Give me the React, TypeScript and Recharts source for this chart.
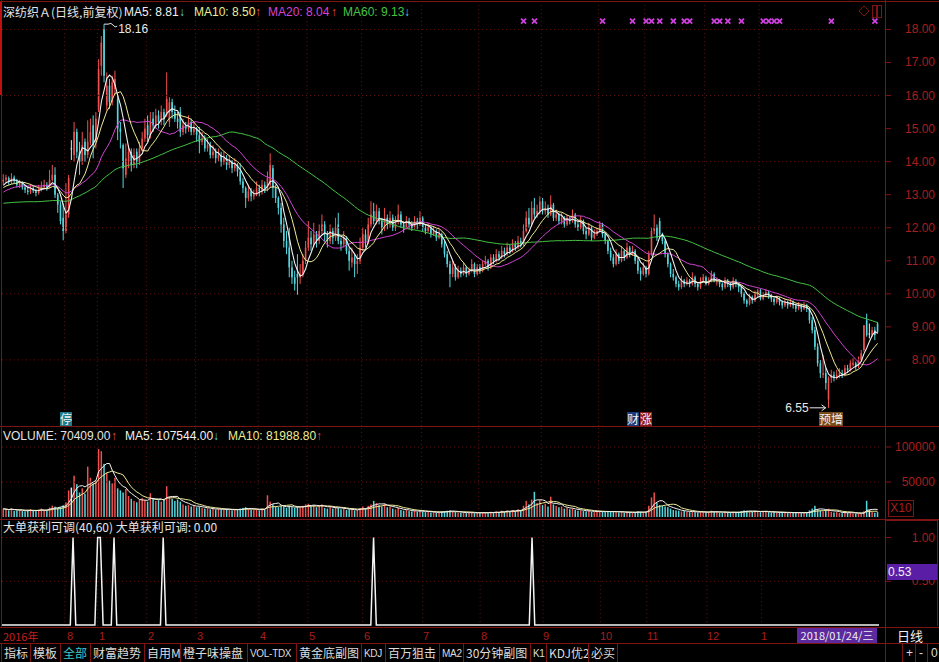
import React from 'react';
import { ComposedChart, Bar, Line, XAxis, YAxis, ReferenceLine, ReferenceDot } from 'recharts';

// 59 sessions before the first drawn bar, only used to seed the long moving averages
const warmupCloses = [
  12.9, 13.05, 13.1, 12.95, 13.0, 13.15, 13.05, 12.9, 12.95, 13.1, 13.2, 13.05, 12.95, 13.0, 12.85, 12.9, 13.05, 13.1, 12.95, 12.8, 12.7, 12.6, 12.55,
  12.4, 12.3, 12.2, 12.1, 11.95, 11.85, 11.8, 11.75, 11.8, 11.9, 11.85, 11.95, 12.05, 12.1, 12.2, 12.3, 12.4,
  12.55, 12.7, 12.8, 12.9, 13.0, 12.95, 13.05, 13.1, 13.2, 13.15, 13.05, 13.1, 13.2, 13.25, 13.15, 13.1, 13.2, 13.3, 13.35,
];

// daily bars: Jul-Aug 2016, halt, then Jan 2017 - Mar 2018
const opens = [
  13.4, 13.45, 13.5, 13.38, 13.52, 13.4, 13.28, 13.35, 13.22, 13.12, 13.08, 13.2, 13.1, 13.05, 13.18, 13.22, 13.3, 13.22, 13.45, 13.6, 13.0, 12.7, 12.3,
  11.9, 12.4, 14.4, 14.2, 14.9, 14.3, 14.0, 14.6, 14.2, 14.6, 15.1, 14.6,
  15.6, 16.9, 18.0, 15.7, 16.3, 15.8, 16.2, 15.9, 15.0, 14.5, 13.6, 14.0, 14.3, 13.9, 14.3, 14.0, 14.4, 14.7,
  15.1, 14.8, 15.3, 15.1, 15.4, 15.2, 15.5, 15.4, 15.2, 15.8, 15.5, 15.3, 15.5, 14.9, 15.1, 15.0, 15.2, 14.9,
  15.0, 14.8, 14.6, 14.7, 14.4, 14.5, 14.2, 14.3, 14.1, 14.2, 14.0, 14.1, 13.9, 14.0, 13.8, 13.9, 13.7, 13.4, 13.2, 12.9, 13.1, 12.95, 13.0,
  13.2, 13.1, 13.3, 13.2, 13.3, 13.8, 13.2, 12.9, 12.6, 12.1, 11.6, 11.4, 10.8, 10.5, 10.6, 10.5, 10.6, 11.0,
  11.4, 11.7, 11.5, 11.8, 11.6, 11.9, 12.1, 11.8, 11.6, 11.9, 11.7, 12.1, 11.6, 11.5, 11.7, 11.3, 10.95, 11.1, 10.9, 11.0,
  11.4, 11.8, 11.6, 12.1, 12.5, 12.2, 12.5, 12.2, 12.0, 12.3, 12.1, 12.3, 12.0, 12.2, 12.4, 12.1, 12.0, 12.2, 12.1, 12.0, 12.2, 12.1,
  12.3, 12.0, 11.9, 12.0, 11.8, 11.9, 11.7, 11.8, 11.5, 11.2, 10.9, 10.6, 10.8, 10.5, 10.7, 10.6, 10.8, 10.6, 10.7, 10.9, 10.6,
  10.8, 10.7, 10.9, 11.0, 10.8, 11.1, 11.0, 11.2, 11.1, 11.3, 11.2, 11.4, 11.3, 11.5, 11.4, 11.6, 11.5, 11.9, 12.3, 12.1, 12.6, 12.4, 12.5,
  12.8, 12.5, 12.6, 12.4, 12.7, 12.3, 12.4, 12.2, 12.3, 12.1, 12.3, 12.2, 12.4, 12.1, 12.0, 12.2, 11.9, 11.8, 12.0, 11.7, 11.8,
  11.9, 12.1, 11.8, 11.6, 11.3, 11.1, 10.9, 11.2, 11.0, 11.3, 11.1, 11.4, 11.2, 11.3, 11.0, 10.7, 10.6,
  10.8, 10.6, 11.2, 11.9, 12.0, 12.2, 11.8, 11.6, 11.2, 10.9, 10.6, 10.5, 10.3, 10.2, 10.4, 10.3, 10.4, 10.3, 10.5, 10.3, 10.2, 10.4,
  10.5, 10.3, 10.4, 10.6, 10.35, 10.4, 10.3, 10.2, 10.4, 10.3, 10.2, 10.4, 10.3, 10.2, 10.0, 9.8, 9.7, 9.9, 9.8, 9.95,
  10.1, 9.85, 9.95, 10.05, 9.95, 9.85, 9.75, 9.85, 9.75, 9.65, 9.75, 9.65, 9.75, 9.65, 9.55, 9.65, 9.55, 9.65, 9.55, 9.2, 8.9, 8.4,
  7.9, 7.55, 7.6, 6.8, 7.45, 7.55, 7.45, 7.55, 7.6, 7.55, 7.75, 7.7, 7.85, 7.9, 7.8,
  8.0, 8.3, 9.2, 8.8, 8.75, 8.9, 9.1,
];
const highs = [
  13.62, 13.6, 13.55, 13.65, 13.58, 13.48, 13.45, 13.4, 13.3, 13.25, 13.32, 13.28, 13.18, 13.3, 13.4, 13.45, 13.38, 13.75, 13.9, 13.83, 13.05, 12.8, 12.74,
  13.35, 13.6, 14.65, 15.2, 15.0, 14.6, 14.9, 14.7, 15.25, 15.3, 15.4, 15.5,
  17.1, 17.8, 18.16, 16.7, 16.5, 16.6, 16.75, 16.0, 15.2, 14.55, 14.55, 14.5, 14.4, 14.4, 14.4, 14.6, 14.9, 15.3,
  15.4, 15.5, 15.5, 15.6, 15.55, 15.7, 15.6, 16.7, 15.95, 15.9, 15.7, 15.5, 15.65, 15.3, 15.2, 15.4, 15.3, 15.2,
  15.05, 15.05, 14.9, 14.8, 14.7, 14.6, 14.5, 14.4, 14.4, 14.3, 14.3, 14.2, 14.2, 14.05, 14.1, 13.95, 13.95, 13.5, 13.25, 13.3, 13.2, 13.15, 13.4,
  13.3, 13.45, 13.4, 13.7, 14.25, 13.9, 13.3, 12.95, 12.75, 12.3, 11.9, 12.0, 11.0, 10.7, 11.2, 10.9, 11.2, 11.6,
  12.2, 11.9, 12.15, 11.9, 12.1, 12.4, 12.2, 11.9, 12.1, 12.0, 12.3, 12.45, 11.7, 11.9, 11.75, 11.4, 11.4, 11.2, 11.2, 11.7,
  12.0, 11.95, 12.3, 12.8, 12.75, 12.7, 12.6, 12.3, 12.6, 12.4, 12.5, 12.4, 12.35, 12.7, 12.5, 12.2, 12.35, 12.3, 12.2, 12.35, 12.3, 12.5,
  12.35, 12.1, 12.15, 12.05, 12.05, 11.95, 11.95, 11.85, 11.6, 11.3, 11.0, 11.0, 10.9, 10.85, 10.8, 10.95, 10.85, 10.8, 11.05, 10.95, 10.9,
  10.9, 11.0, 11.15, 11.05, 11.2, 11.2, 11.35, 11.3, 11.45, 11.4, 11.55, 11.5, 11.65, 11.6, 11.75, 11.7, 12.1, 12.5, 12.6, 12.8, 12.9, 12.7, 12.95,
  12.9, 12.8, 12.7, 12.98, 12.75, 12.55, 12.45, 12.45, 12.35, 12.4, 12.35, 12.55, 12.45, 12.2, 12.35, 12.25, 12.0, 12.15, 12.05, 11.95, 12.0,
  12.2, 12.15, 11.85, 11.65, 11.4, 11.2, 11.35, 11.25, 11.45, 11.35, 11.55, 11.45, 11.45, 11.35, 11.1, 10.8, 10.95,
  10.85, 11.3, 12.0, 12.4, 12.1, 12.3, 11.85, 11.65, 11.25, 10.95, 10.75, 10.55, 10.4, 10.55, 10.45, 10.5, 10.45, 10.65, 10.55, 10.35, 10.5, 10.6,
  10.55, 10.5, 10.7, 10.65, 10.5, 10.45, 10.35, 10.5, 10.45, 10.35, 10.5, 10.45, 10.35, 10.25, 10.05, 9.85, 10.0, 9.95, 10.1, 10.15,
  10.15, 10.05, 10.15, 10.1, 10.0, 9.9, 9.95, 9.9, 9.8, 9.85, 9.8, 9.85, 9.8, 9.7, 9.75, 9.7, 9.75, 9.7, 9.6, 9.3, 9.0, 8.5,
  8.0, 8.15, 7.75, 7.5, 7.7, 7.65, 7.7, 7.75, 7.7, 7.85, 7.85, 8.0, 8.05, 7.95, 8.1,
  8.3, 9.05, 9.4, 9.1, 9.0, 9.0, 9.15,
];
const lows = [
  13.3, 13.35, 13.3, 13.32, 13.35, 13.22, 13.2, 13.15, 13.05, 13.0, 13.02, 13.05, 12.95, 13.0, 13.1, 13.15, 13.12, 13.2, 13.4, 12.9, 12.45, 12.1, 11.62,
  11.83, 12.3, 14.05, 14.0, 14.1, 13.6, 13.9, 14.0, 14.1, 14.5, 14.1, 14.4,
  15.5, 16.6, 16.4, 15.55, 15.6, 15.7, 16.0, 14.65, 14.4, 13.2, 13.5, 13.8, 13.7, 13.8, 13.8, 13.9, 14.3, 14.6,
  14.6, 14.7, 14.9, 15.0, 15.0, 15.1, 15.1, 15.35, 15.05, 15.3, 15.2, 15.0, 14.75, 14.8, 14.85, 14.9, 14.8, 14.8,
  14.6, 14.25, 14.5, 14.3, 14.3, 14.1, 14.1, 13.95, 14.0, 13.85, 13.9, 13.75, 13.8, 13.65, 13.7, 13.55, 13.3, 13.05, 12.6, 12.8, 12.8, 12.85, 12.95,
  12.95, 13.0, 13.05, 13.1, 13.2, 12.9, 12.75, 12.4, 11.85, 11.4, 11.2, 10.5, 10.3, 10.1, 9.97, 10.3, 10.5, 10.9,
  11.3, 11.3, 11.4, 11.4, 11.5, 11.8, 11.6, 11.4, 11.5, 11.5, 11.6, 11.5, 11.3, 11.4, 11.2, 10.7, 10.8, 10.5, 10.6, 10.9,
  11.3, 11.4, 11.5, 12.0, 12.1, 12.1, 12.1, 11.8, 11.9, 11.95, 12.0, 11.9, 11.9, 12.1, 12.0, 11.85, 11.95, 11.95, 11.9, 11.95, 11.95, 12.05,
  11.9, 11.8, 11.85, 11.7, 11.75, 11.6, 11.65, 11.4, 11.1, 10.8, 10.2, 10.5, 10.4, 10.45, 10.5, 10.55, 10.5, 10.55, 10.65, 10.5, 10.55,
  10.6, 10.65, 10.85, 10.7, 10.75, 10.9, 10.95, 11.0, 11.05, 11.1, 11.15, 11.2, 11.25, 11.3, 11.35, 11.4, 11.45, 11.85, 12.0, 12.05, 12.3, 12.3, 12.4,
  12.4, 12.4, 12.3, 12.35, 12.2, 12.2, 12.1, 12.1, 12.0, 12.05, 12.1, 12.15, 12.0, 11.9, 11.95, 11.8, 11.65, 11.75, 11.6, 11.65, 11.75,
  11.85, 11.7, 11.5, 11.2, 11.0, 10.8, 10.85, 10.9, 10.95, 11.0, 11.05, 11.1, 11.15, 10.9, 10.6, 10.4, 10.55,
  10.5, 10.55, 11.15, 11.8, 11.6, 11.7, 11.5, 11.1, 10.8, 10.5, 10.4, 10.2, 10.1, 10.15, 10.2, 10.25, 10.2, 10.25, 10.2, 10.1, 10.15, 10.35,
  10.25, 10.25, 10.35, 10.35, 10.25, 10.2, 10.1, 10.15, 10.2, 10.1, 10.15, 10.2, 10.05, 9.9, 9.7, 9.6, 9.65, 9.7, 9.75, 9.9,
  9.8, 9.8, 9.9, 9.85, 9.75, 9.65, 9.7, 9.65, 9.55, 9.6, 9.55, 9.6, 9.55, 9.45, 9.5, 9.45, 9.5, 9.45, 9.1, 8.8, 8.3, 7.8,
  7.45, 7.45, 7.1, 6.55, 7.3, 7.35, 7.4, 7.45, 7.45, 7.5, 7.6, 7.65, 7.8, 7.7, 7.75,
  7.95, 8.25, 8.7, 8.65, 8.7, 8.6, 8.8,
];
const closes = [
  13.45, 13.52, 13.38, 13.5, 13.41, 13.3, 13.35, 13.22, 13.15, 13.08, 13.2, 13.12, 13.05, 13.18, 13.25, 13.3, 13.22, 13.45, 13.6, 13.0, 12.7, 12.2, 11.9,
  12.4, 13.5, 14.4, 14.9, 14.3, 14.0, 14.5, 14.2, 14.6, 14.9, 14.5, 15.3,
  16.8, 17.6, 16.6, 16.3, 15.8, 16.4, 16.5, 15.0, 14.9, 13.8, 14.1, 14.3, 13.9, 14.2, 14.0, 14.4, 14.7, 15.0,
  14.8, 15.2, 15.1, 15.4, 15.2, 15.5, 15.3, 15.9, 15.8, 15.5, 15.3, 15.2, 14.9, 15.1, 15.0, 15.2, 14.9, 15.0,
  14.8, 14.6, 14.7, 14.4, 14.5, 14.2, 14.3, 14.1, 14.2, 14.0, 14.1, 13.9, 14.0, 13.8, 13.9, 13.7, 13.4, 13.2, 12.9, 13.1, 12.95, 13.0, 13.2,
  13.1, 13.3, 13.2, 13.5, 13.9, 13.2, 12.9, 12.6, 12.1, 11.6, 11.4, 10.8, 10.5, 10.3, 10.5, 10.6, 11.0, 11.4,
  11.7, 11.5, 11.8, 11.6, 11.9, 12.1, 11.8, 11.6, 11.9, 11.7, 12.0, 11.6, 11.5, 11.7, 11.3, 11.0, 11.1, 10.9, 11.0, 11.4,
  11.8, 11.6, 12.1, 12.4, 12.2, 12.5, 12.2, 12.0, 12.3, 12.1, 12.3, 12.0, 12.2, 12.4, 12.1, 12.0, 12.2, 12.1, 12.0, 12.2, 12.1, 12.3,
  12.0, 11.9, 12.0, 11.8, 11.9, 11.7, 11.8, 11.5, 11.2, 10.9, 10.6, 10.8, 10.5, 10.7, 10.6, 10.8, 10.6, 10.7, 10.9, 10.6, 10.8,
  10.7, 10.9, 11.0, 10.8, 11.1, 11.0, 11.2, 11.1, 11.3, 11.2, 11.4, 11.3, 11.5, 11.4, 11.6, 11.5, 11.9, 12.3, 12.1, 12.6, 12.4, 12.5, 12.8,
  12.5, 12.6, 12.4, 12.7, 12.3, 12.4, 12.2, 12.3, 12.1, 12.3, 12.2, 12.4, 12.1, 12.0, 12.2, 11.9, 11.8, 12.0, 11.7, 11.8, 11.9,
  12.1, 11.8, 11.6, 11.3, 11.1, 10.9, 11.2, 11.0, 11.3, 11.1, 11.4, 11.2, 11.3, 11.0, 10.7, 10.6, 10.8,
  10.6, 11.2, 11.9, 12.0, 11.7, 11.8, 11.6, 11.2, 10.9, 10.6, 10.5, 10.3, 10.2, 10.4, 10.3, 10.4, 10.3, 10.5, 10.3, 10.2, 10.4, 10.5,
  10.3, 10.4, 10.6, 10.4, 10.4, 10.3, 10.2, 10.4, 10.3, 10.2, 10.4, 10.3, 10.2, 10.0, 9.8, 9.7, 9.9, 9.8, 10.0, 10.1,
  9.85, 9.95, 10.05, 9.95, 9.85, 9.75, 9.85, 9.75, 9.65, 9.75, 9.65, 9.75, 9.65, 9.55, 9.65, 9.55, 9.65, 9.55, 9.2, 8.9, 8.4, 7.9,
  7.6, 7.6, 7.3, 7.45, 7.55, 7.45, 7.55, 7.6, 7.55, 7.75, 7.7, 7.9, 7.9, 7.8, 8.0,
  8.2, 9.05, 8.75, 8.8, 8.9, 8.75, 8.85,
];
const volumes = [
  118000, 105000, 96000, 124000, 88000, 92000, 101000, 85000, 78000, 94000, 112000, 87000, 83000, 106000, 121000, 98000, 90000, 135000, 162000, 148000, 126000, 142000, 168000,
  210000, 380000, 420000, 590000, 470000, 350000, 410000, 330000, 720000, 560000, 480000, 520000,
  970000, 940000, 760000, 630000, 520000, 480000, 560000, 410000, 380000, 350000, 400000, 300000, 260000, 230000, 210000, 250000, 270000, 240000,
  220000, 340000, 260000, 230000, 240000, 220000, 250000, 440000, 290000, 260000, 230000, 250000, 220000, 180000, 160000, 170000, 150000, 160000,
  140000, 150000, 130000, 120000, 125000, 110000, 115000, 105000, 120000, 110000, 100000, 115000, 105000, 95000, 110000, 100000, 120000, 130000, 140000, 115000, 105000, 100000, 110000,
  95000, 120000, 105000, 310000, 220000, 180000, 150000, 140000, 160000, 150000, 130000, 160000, 140000, 130000, 150000, 140000, 160000, 180000,
  190000, 150000, 170000, 140000, 160000, 180000, 130000, 120000, 150000, 120000, 140000, 130000, 110000, 120000, 100000, 110000, 105000, 95000, 100000, 130000,
  150000, 120000, 160000, 180000, 230000, 200000, 170000, 150000, 190000, 140000, 150000, 120000, 110000, 130000, 100000, 90000, 100000, 85000, 80000, 90000, 75000, 95000,
  80000, 70000, 75000, 65000, 70000, 60000, 65000, 80000, 85000, 90000, 95000, 75000, 70000, 65000, 60000, 65000, 55000, 60000, 70000, 55000, 60000,
  55000, 65000, 70000, 55000, 75000, 60000, 80000, 70000, 90000, 75000, 95000, 80000, 100000, 85000, 110000, 95000, 160000, 230000, 180000, 250000, 360000, 200000, 240000,
  170000, 190000, 150000, 290000, 180000, 160000, 140000, 150000, 120000, 130000, 110000, 120000, 100000, 90000, 95000, 85000, 80000, 90000, 75000, 70000, 80000,
  85000, 75000, 70000, 80000, 75000, 85000, 70000, 65000, 75000, 60000, 70000, 65000, 60000, 70000, 80000, 75000, 65000,
  70000, 160000, 280000, 350000, 200000, 170000, 160000, 150000, 140000, 120000, 100000, 95000, 90000, 80000, 85000, 75000, 70000, 80000, 70000, 65000, 75000, 70000,
  65000, 70000, 90000, 75000, 70000, 65000, 60000, 75000, 65000, 60000, 70000, 60000, 75000, 85000, 95000, 90000, 80000, 75000, 85000, 80000,
  70000, 75000, 80000, 70000, 65000, 70000, 60000, 65000, 70000, 60000, 55000, 65000, 60000, 70000, 60000, 55000, 60000, 65000, 95000, 120000, 160000, 110000,
  95000, 80000, 90000, 120000, 75000, 65000, 70000, 60000, 55000, 65000, 60000, 70000, 49200, 48300, 49600,
  52400, 82668, 231500, 98400, 76211, 61200, 70409,
];

// days where the 大单获利可调 signal fires
const signalDays = [26, 35, 36, 41, 59, 136, 194];
// days carrying the purple cross flags along the top
const crossDays = [191, 195, 220, 231, 236, 238, 241, 246, 250, 252, 261, 263, 266, 271, 279, 281, 283, 285, 304, 320];
const monthStarts = [0, 23, 35, 53, 71, 94, 112, 132, 154, 175, 198, 219, 236, 258, 278];
const monthLabels = ['2016年', '8', '1', '2', '3', '4', '5', '6', '7', '8', '9', '10', '11', '12', '1'];
const eventDays = [23, 231, 236, 304];
const eventTags = ['停', '财', '涨', '预增'];
const eventColors = ['#1e7c88', '#1c3a78', '#8c1c1c', '#7a4a18'];
const priceTicks = [8, 9, 10, 11, 12, 13, 14, 15, 16, 17, 18];
const priceGrid = [8, 10, 12, 14, 16, 18];
const volumeTicks = [500000, 1000000];
const signalTicks = [0.5, 1];
const toolbarLabels = ['指标', '模板', '全部', '财富趋势', '自用M', '橙子味操盘', 'VOL-TDX', '黄金底副图', 'KDJ', '百万狙击', 'MA2', '30分钟副图', 'K1', 'KDJ优2', '必买'];
const toolbarLefts = [4, 33, 63, 93, 147, 183, 250, 299, 364, 388, 442, 466, 533, 549, 591];

const BG = '#000000';
const UP = '#f05050';
const DOWN = '#54d8e0';
const FLAT = '#e8e8e8';
const MA5C = '#f2f2f2';
const MA10C = '#ecec96';
const MA20C = '#d444d4';
const MA60C = '#44c444';
const MARK = '#d040e0';
const BORDER = '#7c1414';
const GRID = '#5e1010';
const AXIS_TEXT = '#a81e1e';
const FONT = "'Liberation Sans', Arial, 'Noto Sans CJK SC', sans-serif";
const CJK = "'Noto Sans CJK SC', 'Liberation Sans', sans-serif";

const N = closes.length;
const PLOT_LEFT = 2;
const PLOT_W = 877;
const BAND = PLOT_W / N;
const xAt = (i: number) => PLOT_LEFT + (i + 0.5) * BAND;
const xStart = (i: number) => PLOT_LEFT + i * BAND;

const allCloses = [...warmupCloses, ...closes];
const avg = (src: number[], end: number, n: number) => {
  const start = Math.max(0, end - n + 1);
  let s = 0;
  for (let k = start; k <= end; k++) s += src[k];
  return s / (end - start + 1);
};

const rows = closes.map((c, i) => {
  const k = i + warmupCloses.length;
  return {
    i,
    open: opens[i],
    high: highs[i],
    low: lows[i],
    close: c,
    range: [lows[i], highs[i]],
    ma5: avg(allCloses, k, 5),
    ma10: avg(allCloses, k, 10),
    ma20: avg(allCloses, k, 20),
    ma60: avg(allCloses, k, 60),
    vol: volumes[i],
    vma5: avg(volumes, i, 5),
    vma10: avg(volumes, i, 10),
    sig: signalDays.includes(i) ? 1 : 0,
    mark: crossDays.includes(i) ? 18.25 : null,
  };
});

const last = rows[N - 1];
const prev = rows[N - 2];
let hiIdx = 0;
let loIdx = 0;
rows.forEach((r, i) => {
  if (r.high > rows[hiIdx].high) hiIdx = i;
  if (r.low < rows[loIdx].low) loIdx = i;
});

const barColor = (p: any) => (p.close > p.open ? UP : p.close < p.open ? DOWN : FLAT);

// thin candle: 1px wick plus a narrow body
const Candle = (props: any) => {
  const { x, y, width, height, payload } = props;
  const { open, close, high, low } = payload;
  const cx = x + width / 2;
  const span = high - low || 1;
  const py = (v: number) => y + ((high - v) / span) * height;
  const top = py(Math.max(open, close));
  const bot = py(Math.min(open, close));
  const color = barColor(payload);
  return (
    <g>
      <line x1={cx} x2={cx} y1={y} y2={y + height} stroke={color} strokeWidth={1} />
      <rect x={cx - 0.8} y={top} width={1.6} height={Math.max(1, bot - top)} fill={color} />
    </g>
  );
};

const VolumeBar = (props: any) => {
  const { x, y, width, height, payload } = props;
  const cx = x + width / 2;
  return <rect x={cx - 0.75} y={y} width={1.5} height={Math.max(0, height)} fill={barColor(payload)} />;
};

const Cross = (props: any) => {
  const { cx, cy, payload, index } = props;
  if (!payload || payload.mark == null || cy == null || cx == null) return <g key={`x${index}`} />;
  return (
    <path
      key={`x${index}`}
      d={`M${cx - 2.5},${cy - 2.5}L${cx + 2.5},${cy + 2.5}M${cx + 2.5},${cy - 2.5}L${cx - 2.5},${cy + 2.5}`}
      stroke={MARK}
      strokeWidth={1.8}
    />
  );
};

const axisTick = (fmt: (v: number) => string) => (props: any) => {
  const { y, payload } = props;
  return (
    <g>
      <line x1={885} x2={891} y1={y} y2={y} stroke={BORDER} />
      <text x={935} y={y + 4} textAnchor="end" fill={AXIS_TEXT} fontSize={12} fontFamily={FONT}>
        {fmt(payload.value)}
      </text>
    </g>
  );
};

const HighTag = (props: any) => {
  const { cx, cy } = props;
  return (
    <g>
      <path d={`M${cx},${cy}L${cx + 4},${cy}Q${cx + 7},${cy - 2} ${cx + 9},${cy + 1}T${cx + 13},${cy + 2}`} stroke="#e8e8e8" fill="none" />
      <text x={cx + 14} y={cy + 9} fill="#e8e8e8" fontSize={12} fontFamily={FONT}>
        {rows[hiIdx].high.toFixed(2)}
      </text>
    </g>
  );
};

const LowTag = (props: any) => {
  const { cx, cy } = props;
  return (
    <g>
      <line x1={cx - 19} x2={cx - 3} y1={cy} y2={cy} stroke="#e8e8e8" />
      <path d={`M${cx - 7},${cy - 3}L${cx - 3},${cy}L${cx - 7},${cy + 3}`} stroke="#e8e8e8" fill="none" />
      <text x={cx - 20} y={cy + 4} textAnchor="end" fill="#e8e8e8" fontSize={12} fontFamily={FONT}>
        {rows[loIdx].low.toFixed(2)}
      </text>
    </g>
  );
};

const monthLines = monthStarts.slice(1).map((m) => (
  <ReferenceLine key={`m${m}`} x={m} position="start" stroke={GRID} strokeDasharray="1 3" ifOverflow="visible" />
));

const arrow = (cur: number, before: number) =>
  cur >= before ? <span style={{ color: UP }}>↑</span> : <span style={{ color: DOWN }}>↓</span>;

const txt = (left: number, top: number, color: string, content: React.ReactNode, extra: React.CSSProperties = {}) => (
  <div
    style={{
      position: 'absolute',
      left,
      top,
      color,
      fontSize: 12,
      lineHeight: '14px',
      fontFamily: FONT,
      whiteSpace: 'nowrap',
      ...extra,
    }}
  >
    {content}
  </div>
);

const hLine = (top: number, left: number, width: number, color = BORDER) => (
  <div style={{ position: 'absolute', left, top, width, height: 1, background: color }} />
);
const vLine = (left: number, top: number, height: number, color = BORDER) => (
  <div style={{ position: 'absolute', left, top, width: 1, height, background: color }} />
);

const isLatin = (s: string) => /^[\x20-\x7e]+$/.test(s);

export default function App() {
  return (
    <div
      style={{
        position: 'absolute',
        left: 0,
        top: 0,
        width: 939,
        height: 662,
        background: BG,
        overflow: 'hidden',
        fontFamily: FONT,
      }}
    >
      {/* price panel */}
      <div style={{ position: 'absolute', left: 0, top: 3 }}>
        <ComposedChart width={939} height={423} data={rows} margin={{ top: 0, right: 0, bottom: 0, left: PLOT_LEFT }}>
          <XAxis dataKey="i" hide />
          <YAxis
            orientation="right"
            width={60}
            domain={[6, 18.8]}
            allowDataOverflow
            ticks={priceTicks}
            interval={0}
            axisLine={false}
            tickLine={false}
            tick={axisTick((v) => v.toFixed(2))}
          />
          {priceGrid.map((v) => (
            <ReferenceLine key={`p${v}`} y={v} stroke={GRID} strokeDasharray="1 3" />
          ))}
          {monthLines}
          <Bar dataKey="range" shape={Candle} isAnimationActive={false} />
          <Line dataKey="ma60" stroke={MA60C} strokeWidth={1} dot={false} activeDot={false} isAnimationActive={false} />
          <Line dataKey="ma20" stroke={MA20C} strokeWidth={1} dot={false} activeDot={false} isAnimationActive={false} />
          <Line dataKey="ma10" stroke={MA10C} strokeWidth={1} dot={false} activeDot={false} isAnimationActive={false} />
          <Line dataKey="ma5" stroke={MA5C} strokeWidth={1.1} dot={false} activeDot={false} isAnimationActive={false} />
          <Line dataKey="mark" stroke="none" dot={Cross} activeDot={false} isAnimationActive={false} />
          <ReferenceDot x={hiIdx} y={rows[hiIdx].high} r={0} ifOverflow="visible" shape={HighTag} />
          <ReferenceDot x={loIdx} y={rows[loIdx].low} r={0} ifOverflow="visible" shape={LowTag} />
        </ComposedChart>
      </div>

      {/* volume panel */}
      <div style={{ position: 'absolute', left: 0, top: 427 }}>
        <ComposedChart width={939} height={90} data={rows} margin={{ top: 0, right: 0, bottom: 0, left: PLOT_LEFT }}>
          <XAxis dataKey="i" hide />
          <YAxis
            orientation="right"
            width={60}
            domain={[0, 1285714]}
            allowDataOverflow
            ticks={volumeTicks}
            interval={0}
            axisLine={false}
            tickLine={false}
            tick={axisTick((v) => String(v / 10))}
          />
          {volumeTicks.map((v) => (
            <ReferenceLine key={`v${v}`} y={v} stroke={GRID} strokeDasharray="1 3" />
          ))}
          {monthLines}
          <Bar dataKey="vol" shape={VolumeBar} isAnimationActive={false} />
          <Line dataKey="vma10" stroke={MA10C} strokeWidth={1} dot={false} activeDot={false} isAnimationActive={false} />
          <Line dataKey="vma5" stroke={MA5C} strokeWidth={1} dot={false} activeDot={false} isAnimationActive={false} />
        </ComposedChart>
      </div>

      {/* signal panel */}
      <div style={{ position: 'absolute', left: 0, top: 520 }}>
        <ComposedChart width={939} height={106} data={rows} margin={{ top: 0, right: 0, bottom: 0, left: PLOT_LEFT }}>
          <XAxis dataKey="i" hide />
          <YAxis
            orientation="right"
            width={60}
            domain={[-0.01, 1.2]}
            allowDataOverflow
            ticks={signalTicks}
            interval={0}
            axisLine={false}
            tickLine={false}
            tick={axisTick((v) => v.toFixed(2))}
          />
          {signalTicks.map((v) => (
            <ReferenceLine key={`s${v}`} y={v} stroke={GRID} strokeDasharray="1 3" />
          ))}
          {monthLines}
          <Line dataKey="sig" stroke="#f4f4f4" strokeWidth={1.5} dot={false} activeDot={false} isAnimationActive={false} />
        </ComposedChart>
      </div>

      {/* frame */}
      {hLine(1, 0, 939)}
      {hLine(426, 0, 939)}
      {hLine(519, 0, 939)}
      {hLine(627, 0, 939)}
      {hLine(643, 0, 939)}
      {vLine(1, 0, 627)}
      <div style={{ position: 'absolute', left: 0, top: 2, width: 2, height: 93, background: '#c01010' }} />
      {vLine(885, 0, 662)}
      {vLine(937, 520, 106)}
      {hLine(520, 886, 52)}

      {/* top right buttons */}
      <svg style={{ position: 'absolute', left: 858, top: 4 }} width={28} height={16}>
        <path d="M6,2L11,7L6,12L1,7Z" stroke={BORDER} fill="none" />
        <rect x={14.5} y={1.5} width={4} height={12} stroke={BORDER} fill="none" />
        <rect x={19.5} y={1.5} width={4} height={12} stroke={BORDER} fill="none" />
      </svg>

      {/* headers */}
      {txt(3, 5, '#e4e4e4', '深纺织Ａ(日线,前复权)', { fontFamily: CJK })}
      {txt(124, 5, MA5C, `MA5: ${last.ma5.toFixed(2)}`)}
      {txt(179, 5, MA5C, arrow(last.ma5, prev.ma5))}
      {txt(194, 5, MA10C, `MA10: ${last.ma10.toFixed(2)}`)}
      {txt(255, 5, MA10C, arrow(last.ma10, prev.ma10))}
      {txt(268, 5, MA20C, `MA20: ${last.ma20.toFixed(2)}`)}
      {txt(331, 5, MA20C, arrow(last.ma20, prev.ma20))}
      {txt(343, 5, MA60C, `MA60: ${last.ma60.toFixed(2)}`)}
      {txt(404, 5, MA60C, arrow(last.ma60, prev.ma60))}

      {txt(3, 429, '#e4e4e4', `VOLUME: ${last.vol.toFixed(2)}`)}
      {txt(111, 429, '#e4e4e4', arrow(last.vol, prev.vol))}
      {txt(125, 429, MA5C, `MA5: ${last.vma5.toFixed(2)}`)}
      {txt(213, 429, MA5C, arrow(last.vma5, prev.vma5))}
      {txt(228, 429, MA10C, `MA10: ${last.vma10.toFixed(2)}`)}
      {txt(316, 429, MA10C, arrow(last.vma10, prev.vma10))}

      {txt(3, 520, '#e4e4e4', `大单获利可调(40,60) 大单获利可调: ${last.sig.toFixed(2)}`, { fontFamily: CJK })}

      {/* event tags at the foot of the price panel */}
      {eventDays.map((d, k) => {
        const w = eventTags[k].length * 12;
        return (
          <div
            key={`e${d}`}
            style={{
              position: 'absolute',
              left: Math.round(xAt(d) - w / 2),
              top: 412,
              width: w,
              height: 14,
              background: eventColors[k],
              color: '#f0f0f0',
              fontSize: 12,
              lineHeight: '14px',
              fontFamily: CJK,
              textAlign: 'center',
            }}
          >
            {eventTags[k]}
          </div>
        );
      })}

      {/* right-hand column labels */}
      <div
        style={{
          position: 'absolute',
          left: 888,
          top: 500,
          width: 24,
          height: 15,
          border: `1px solid ${BORDER}`,
          color: AXIS_TEXT,
          fontSize: 12,
          lineHeight: '15px',
          textAlign: 'center',
        }}
      >
        X10
      </div>
      <div
        style={{
          position: 'absolute',
          left: 887,
          top: 564,
          width: 49,
          height: 16,
          background: '#5a1ea6',
          color: '#f0f0f0',
          fontSize: 12,
          lineHeight: '16px',
          paddingLeft: 1,
        }}
      >
        0.53
      </div>

      {/* date axis */}
      {monthStarts.map((m, k) =>
        txt(Math.round(xStart(m)) + (k === 0 ? 1 : 2), 629, k === 0 ? '#c22020' : AXIS_TEXT, monthLabels[k], {
          fontFamily: k === 0 ? CJK : FONT,
          fontSize: 11,
        })
      )}
      <div
        style={{
          position: 'absolute',
          left: 797,
          top: 628,
          width: 80,
          height: 15,
          background: '#5c2a9e',
          color: '#f0f0f0',
          fontSize: 11,
          lineHeight: '15px',
          fontFamily: CJK,
          textAlign: 'center',
        }}
      >
        2018/01/24/三
      </div>
      {txt(897, 628, '#f0f0f0', '日线', { fontFamily: CJK, fontSize: 13, lineHeight: '15px' })}

      {/* bottom tab strip */}
      {toolbarLabels.map((t, k) => (
        <React.Fragment key={`t${k}`}>
          {vLine(toolbarLefts[k] - 3, 644, 18)}
          {txt(toolbarLefts[k], isLatin(t) ? 647 : 646, t === '全部' ? '#3cc8cc' : '#dcdcdc', t, {
            fontFamily: isLatin(t) ? FONT : CJK,
            fontSize: isLatin(t) ? 10 : 12,
            letterSpacing: isLatin(t) ? -0.3 : 0,
          })}
        </React.Fragment>
      ))}
      {vLine(617, 644, 18)}
      {vLine(902, 644, 18)}
      {vLine(915, 644, 18)}
      {vLine(927, 644, 18)}
      {txt(906, 646, '#dcdcdc', '+')}
      {txt(919, 646, '#dcdcdc', '-')}
      {txt(931, 646, '#dcdcdc', '0')}
    </div>
  );
}
